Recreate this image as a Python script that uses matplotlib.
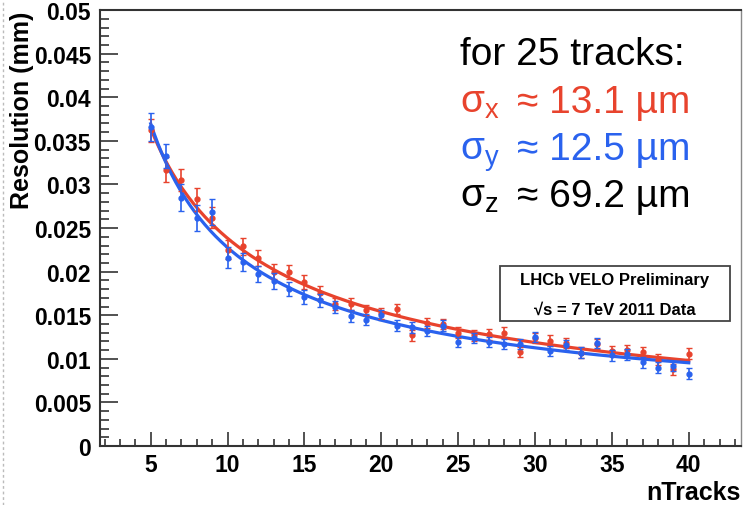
import numpy as np
import matplotlib
matplotlib.use("Agg")
import matplotlib.pyplot as plt
from matplotlib.ticker import MultipleLocator, FuncFormatter

plt.rcParams['font.family'] = ['Liberation Sans', 'DejaVu Sans']
plt.rcParams['mathtext.fontset'] = 'custom'
plt.rcParams['mathtext.rm'] = 'Liberation Sans'
plt.rcParams['mathtext.it'] = 'Liberation Sans'
plt.rcParams['mathtext.bf'] = 'Liberation Sans:bold'

# Data: number of tracks vs PV resolution (mm)
n_tracks = np.arange(5, 41)
sigma_x = [0.0362, 0.0317, 0.0305, 0.0283, 0.0262, 0.0225, 0.0229, 0.0216, 0.0200,
           0.0200, 0.0188, 0.0176, 0.0163, 0.0163, 0.0156, 0.0152, 0.0157, 0.0127,
           0.0141, 0.0140, 0.0130, 0.0127, 0.0128, 0.0130, 0.0108, 0.0124, 0.0121,
           0.0118, 0.0107, 0.0117, 0.0109, 0.0110, 0.0108, 0.0099, 0.0088, 0.0106]
sigma_y = [0.0366, 0.0333, 0.0285, 0.0262, 0.0268, 0.0216, 0.0211, 0.0197, 0.0189,
           0.0180, 0.0171, 0.0167, 0.0159, 0.0149, 0.0145, 0.0150, 0.0138, 0.0136,
           0.0132, 0.0138, 0.0119, 0.0124, 0.0119, 0.0117, 0.0117, 0.0125, 0.0109,
           0.0116, 0.0107, 0.0118, 0.0104, 0.0105, 0.0096, 0.0090, 0.0092, 0.0083]
err_x = [0.0013, 0.0014, 0.0013, 0.0013, 0.0012, 0.0011, 0.0010, 0.0009, 0.0009,
         0.0008, 0.0008, 0.0007, 0.0007, 0.0007, 0.0006, 0.0006, 0.0006, 0.0006,
         0.0006, 0.0006, 0.0006, 0.0006, 0.0006, 0.0006, 0.0006, 0.0006, 0.0006,
         0.0006, 0.0006, 0.0006, 0.0006, 0.0006, 0.0006, 0.0006, 0.0006, 0.0006]
err_y = [0.0016, 0.0014, 0.0015, 0.0015, 0.0015, 0.0012, 0.0010, 0.0009, 0.0009,
         0.0008, 0.0008, 0.0007, 0.0007, 0.0007, 0.0006, 0.0006, 0.0006, 0.0006,
         0.0006, 0.0006, 0.0006, 0.0006, 0.0006, 0.0006, 0.0006, 0.0006, 0.0006,
         0.0006, 0.0006, 0.0006, 0.0006, 0.0006, 0.0006, 0.0006, 0.0006, 0.0006]

red = '#e8432d'
blue = '#2a62ee'


def fit_power(n, s):
    # fit s = a * n^-b + c, scan over b, linear least squares for a, c
    n = np.asarray(n, float)
    s = np.asarray(s, float)
    best = None
    for b in np.linspace(0.3, 1.5, 241):
        M = np.column_stack([n ** -b, np.ones_like(n)])
        coef = np.linalg.lstsq(M, s, rcond=None)[0]
        r = np.sum((M @ coef - s) ** 2)
        if best is None or r < best[0]:
            best = (r, b, coef)
    _, b, (a, c) = best
    return lambda t: a * t ** -b + c


fig = plt.figure(figsize=(7.44, 5.06), dpi=100)
ax = fig.add_axes([0.1344, 0.1166, 0.996 - 0.1344, 0.978 - 0.1166])

nn = np.linspace(5, 40, 300)
ax.plot(nn, fit_power(n_tracks, sigma_x)(nn), color=red, lw=2.3, zorder=2)
ax.plot(nn, fit_power(n_tracks, sigma_y)(nn), color=blue, lw=2.3, zorder=2)

ax.errorbar(n_tracks, sigma_x, yerr=err_x, fmt='o', color=red, ms=3.5, elinewidth=1.2,
            capsize=2.5, capthick=1.0, zorder=3)
ax.errorbar(n_tracks, sigma_y, yerr=err_y, fmt='o', color=blue, ms=3.5, elinewidth=1.2,
            capsize=2.5, capthick=1.0, zorder=4)

ax.set_xlim(1.7, 43.4)
ax.set_ylim(0, 0.05)
ax.xaxis.set_major_locator(MultipleLocator(5))
ax.xaxis.set_minor_locator(MultipleLocator(1))
ax.yaxis.set_major_locator(MultipleLocator(0.005))
ax.yaxis.set_minor_locator(MultipleLocator(0.001))
ax.yaxis.set_major_formatter(FuncFormatter(lambda v, p: '%g' % round(v, 4)))

ax.tick_params(axis='both', which='both', direction='in', color='#333333',
               top=False, right=False)
ax.tick_params(axis='y', which='major', length=13, width=1.2, pad=6.5)
ax.tick_params(axis='y', which='minor', length=6.5, width=1.2)
ax.tick_params(axis='x', which='major', length=10, width=1.2, pad=5)
ax.tick_params(axis='x', which='minor', length=5, width=1.2)
for lab in ax.get_xticklabels() + ax.get_yticklabels():
    lab.set_fontsize(16.5)
    lab.set_fontweight('bold')

for side in ['left', 'bottom', 'top']:
    ax.spines[side].set_color('#333333')
    ax.spines[side].set_linewidth(1.5)
ax.spines['right'].set_color('#888888')
ax.spines['right'].set_linewidth(1.0)

ax.set_ylabel('Resolution (mm)', fontsize=18, fontweight='bold', loc='top')
ax.yaxis.set_label_coords(-0.103, 1.0)
ax.set_xlabel('nTracks', fontsize=18, fontweight='bold', loc='right')
ax.xaxis.set_label_coords(1.0, -0.078)

# summary text
big = 28
fig.text(460 / 744, 1 - 65 / 506, 'for 25 tracks:', fontsize=big, color='black', va='baseline')
rows = [('x', '13.1', red, 113), ('y', '12.5', blue, 160), ('z', '69.2', 'black', 207)]
for sub, val, col, base in rows:
    fig.text(460 / 744, 1 - base / 506, r'σ$_{\mathregular{%s}}$' % sub, fontsize=big,
             color=col, va='baseline')
    fig.text(517 / 744, 1 - base / 506, '≈ %s µm' % val, fontsize=big, color=col,
             va='baseline')

# info box
box = plt.Rectangle((500 / 744, 1 - 322 / 506), 230 / 744, 55 / 506, transform=fig.transFigure,
                    facecolor='white', edgecolor='#444444', lw=1.3, zorder=5)
fig.patches.append(box)
fig.text(615 / 744, 1 - 281 / 506, 'LHCb VELO Preliminary', fontsize=12, fontweight='bold',
         ha='center', va='center', zorder=6)
fig.text(615 / 744, 1 - 310 / 506, '√s = 7 TeV 2011 Data', fontsize=12,
         fontweight='bold', ha='center', va='center', zorder=6)

# dashed edge of the screenshot
fig.add_artist(plt.Line2D([3 / 744, 3 / 744], [0, 1], transform=fig.transFigure,
                          color='#bbbbbb', lw=1, ls=(0, (2, 2))))

fig.savefig('out.png', dpi=100)
